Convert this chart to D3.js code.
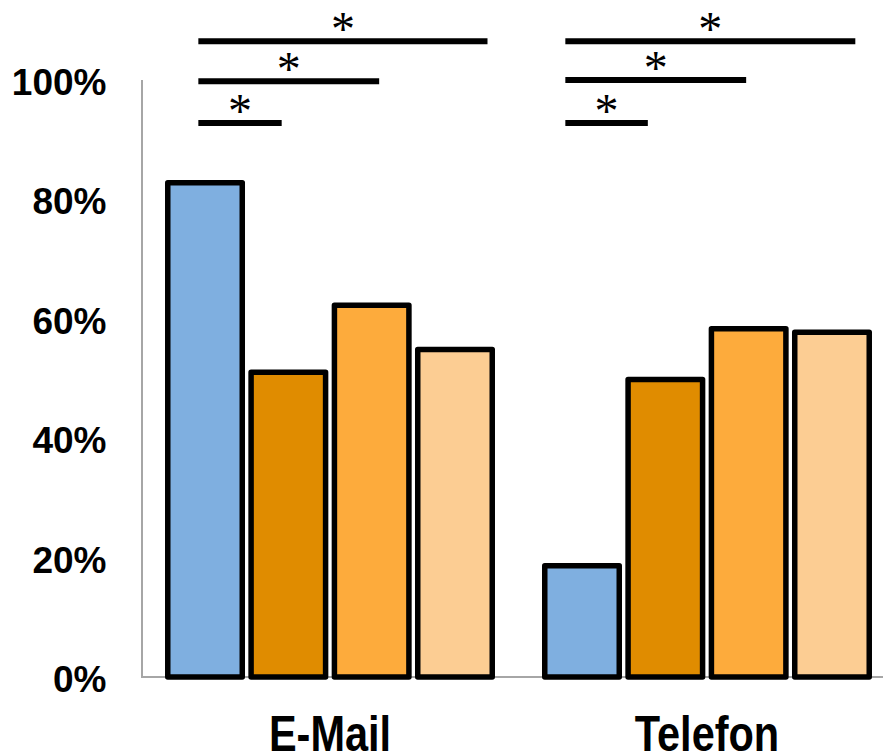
<!DOCTYPE html>
<html>
<head>
<meta charset="utf-8">
<script src="https://cdn.jsdelivr.net/npm/d3@7"></script>
<style>
  html, body { margin: 0; padding: 0; background: #fff; }
  svg { display: block; }
</style>
</head>
<body>
<script>
// chart data
var categories = ["E-Mail", "Telefon"]
var series = ["Gruppe 1", "Gruppe 2", "Gruppe 3", "Gruppe 4"]
var emailValues = [0.827, 0.510, 0.622, 0.548]
var telefonValues = [0.186, 0.498, 0.583, 0.577]
var colors = ["#7fafe0", "#e08c00", "#fdab3c", "#fccd93"]
var yTicks = [0, 0.2, 0.4, 0.6, 0.8, 1]

// significance markers: from / to in bar steps from group start, level in y units
var emailBrackets = [[0.40, 1.40, 0.927], [0.40, 2.57, 0.997], [0.40, 3.87, 1.064]]
var telefonBrackets = [[0.28, 1.27, 0.927], [0.28, 2.45, 0.999], [0.28, 3.76, 1.064]]

var width = 883
var height = 753

var svg = d3.select("body").append("svg")
  .attr("width", width)
  .attr("height", height)

var x0 = d3.scaleBand()
  .domain(categories)
  .range([141, 896])
  .paddingInner(0.1247)
  .paddingOuter(0.0637)

var x1 = d3.scaleBand()
  .domain(series)
  .range([0, x0.bandwidth()])
  .paddingInner(0.04)

var y = d3.scaleLinear()
  .domain([0, 1])
  .range([677, 79.5])

var rows = [emailValues, telefonValues]
var brackets = [emailBrackets, telefonBrackets]

// y axis
var yAxis = svg.append("g")
  .attr("transform", "translate(141.5,0)")
  .call(d3.axisLeft(y).tickValues(yTicks).tickSize(0).tickSizeOuter(0).tickPadding(35).tickFormat(d3.format(".0%")))

yAxis.select(".domain").attr("stroke", "#a6a6a6").attr("stroke-width", 2)
yAxis.selectAll("text")
  .attr("y", 3)
  .style("font-family", "'Liberation Sans', Arial, sans-serif")
  .style("font-weight", "bold")
  .style("font-size", "37px")
  .attr("fill", "#000")

// baseline
svg.append("line")
  .attr("x1", 141).attr("x2", width)
  .attr("y1", y(0)).attr("y2", y(0))
  .attr("stroke", "#a6a6a6")
  .attr("stroke-width", 2)

// bars
var sw = 5.5
var groups = svg.selectAll("g.group").data(categories).enter()
  .append("g")
  .attr("class", "group")
  .attr("transform", function (d) { return "translate(" + x0(d) + ",0)" })

groups.selectAll("rect")
  .data(function (d, i) { return rows[i].map(function (v, j) { return { key: series[j], value: v, fill: colors[j] } }) })
  .enter().append("rect")
  .attr("x", function (d) { return x1(d.key) + sw / 2 })
  .attr("width", x1.bandwidth() - sw)
  .attr("y", function (d) { return y(d.value) })
  .attr("height", function (d) { return y(0) - y(d.value) })
  .attr("fill", function (d) { return d.fill })
  .attr("stroke", "#000")
  .attr("stroke-width", sw)
  .attr("stroke-linejoin", "round")

// significance lines + asterisks
var step = x1.step()
groups.each(function (cat, i) {
  var g = d3.select(this)
  brackets[i].forEach(function (b) {
    var xa = b[0] * step, xb = b[1] * step
    g.append("line")
      .attr("x1", xa).attr("x2", xb)
      .attr("y1", y(b[2])).attr("y2", y(b[2]))
      .attr("stroke", "#000")
      .attr("stroke-width", 6)
    g.append("text")
      .attr("x", (xa + xb) / 2)
      .attr("y", y(b[2]) + 4)
      .attr("text-anchor", "middle")
      .style("font-family", "'Liberation Serif', 'Times New Roman', serif")
      .style("font-size", "48px")
      .text("*")
  })
})

// category labels (condensed bold)
svg.selectAll("text.cat").data(categories).enter()
  .append("text")
  .attr("class", "cat")
  .attr("transform", function (d) { return "translate(" + (x0(d) + x0.bandwidth() / 2) + ",751) scale(0.83,1)" })
  .attr("text-anchor", "middle")
  .style("font-family", "'Liberation Sans', Arial, sans-serif")
  .style("font-weight", "bold")
  .style("font-size", "50px")
  .text(function (d) { return d })
</script>
</body>
</html>
